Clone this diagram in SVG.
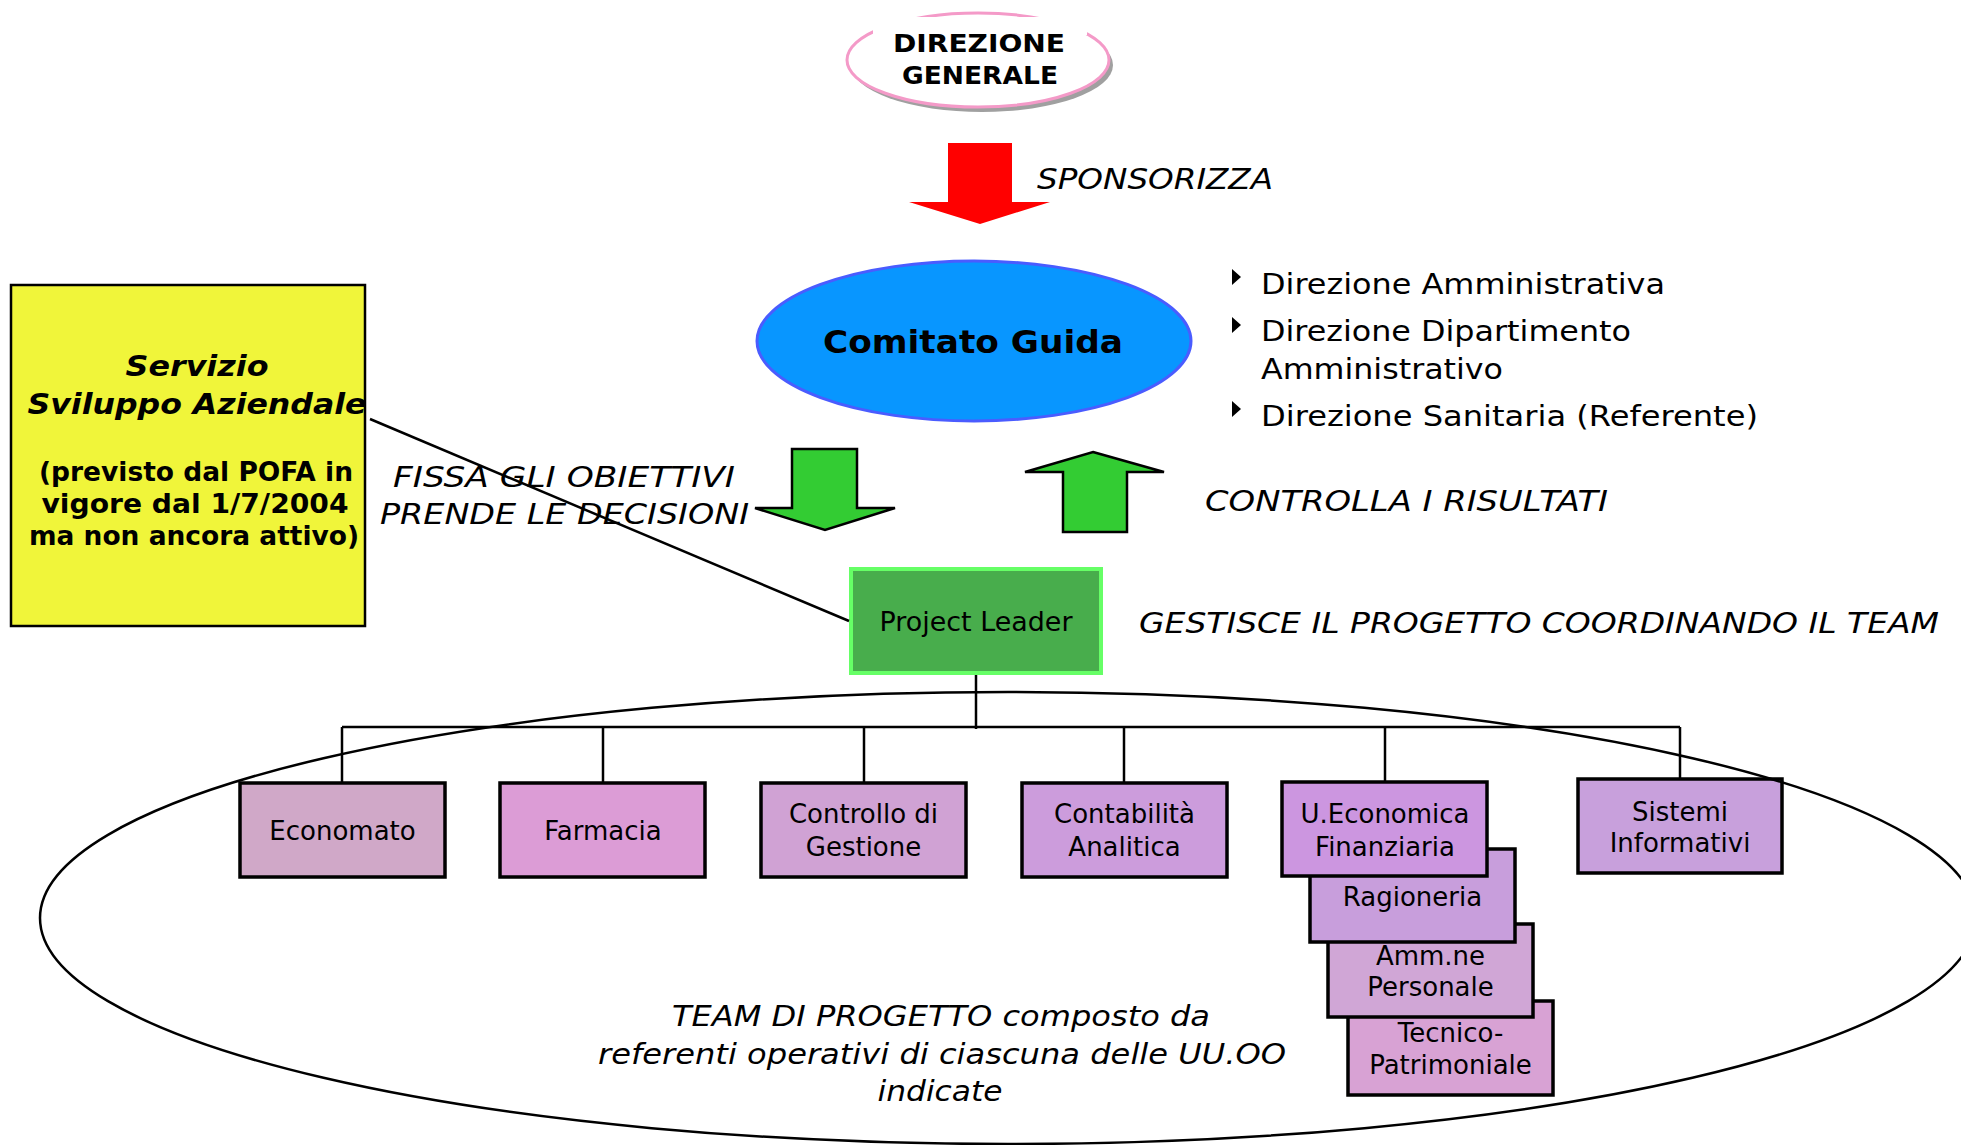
<svg xmlns="http://www.w3.org/2000/svg" width="1961" height="1145" viewBox="0 0 1961 1145">
<style>
text{font-family:"DejaVu Sans","Liberation Sans",sans-serif;fill:#000}
.it{font-style:italic;font-size:29px}
.bx{font-size:26px;text-anchor:middle}
.bl{font-size:29px}
.unit{stroke:#000;stroke-width:3.5}
.conn{stroke:#000;stroke-width:2.5;fill:none}
.garrow{fill:#33cc33;stroke:#000;stroke-width:2.5}
</style>
<rect width="1961" height="1145" fill="#fff"/>

<g id="direzione-generale">
  <ellipse cx="982" cy="65" rx="131" ry="47" fill="#a0a0a0"/>
  <ellipse cx="978" cy="60" rx="131" ry="47" fill="#fff" stroke="#f49ac8" stroke-width="3"/>
  <rect x="873" y="17" width="214" height="18" fill="#fff"/>
  <text x="979" y="52" font-size="25" font-weight="bold" text-anchor="middle" textLength="172" lengthAdjust="spacingAndGlyphs">DIREZIONE</text>
  <text x="980" y="84" font-size="25" font-weight="bold" text-anchor="middle" textLength="156" lengthAdjust="spacingAndGlyphs">GENERALE</text>
</g>

<g id="sponsorizza">
  <polygon points="948,143 1012,143 1012,202 1050,202 980,224 909,202 948,202" fill="#ff0000"/>
  <text class="it" x="1037" y="189" textLength="236" lengthAdjust="spacingAndGlyphs">SPONSORIZZA</text>
</g>

<g id="comitato-guida">
  <ellipse cx="974" cy="341" rx="217" ry="80" fill="#0896ff" stroke="#4a5cff" stroke-width="3"/>
  <text x="973" y="353" font-size="32" font-weight="bold" text-anchor="middle" textLength="300" lengthAdjust="spacingAndGlyphs">Comitato Guida</text>
</g>

<g id="membri-comitato">
  <polygon points="1232,269 1241,277 1232,285"/>
  <polygon points="1232,317 1241,325 1232,333"/>
  <polygon points="1232,401 1241,409 1232,417"/>
  <text class="bl" x="1261" y="294" textLength="404" lengthAdjust="spacingAndGlyphs">Direzione Amministrativa</text>
  <text class="bl" x="1261" y="341" textLength="370" lengthAdjust="spacingAndGlyphs">Direzione Dipartimento</text>
  <text class="bl" x="1261" y="379" textLength="242" lengthAdjust="spacingAndGlyphs">Amministrativo</text>
  <text class="bl" x="1261" y="426" textLength="497" lengthAdjust="spacingAndGlyphs">Direzione Sanitaria (Referente)</text>
</g>

<g id="fissa-obiettivi">
  <polygon class="garrow" points="792,449 857,449 857,508 895,508 825,530 755,508 792,508"/>
  <text class="it" x="393" y="487" textLength="342" lengthAdjust="spacingAndGlyphs">FISSA GLI OBIETTIVI</text>
  <text class="it" x="380" y="524" textLength="369" lengthAdjust="spacingAndGlyphs">PRENDE LE DECISIONI</text>
</g>

<g id="controlla-risultati">
  <polygon class="garrow" points="1093,452 1164,472 1127,472 1127,532 1063,532 1063,472 1025,472"/>
  <text class="it" x="1205" y="511" textLength="403" lengthAdjust="spacingAndGlyphs">CONTROLLA I RISULTATI</text>
</g>

<g id="servizio-sviluppo">
  <rect x="11" y="285" width="354" height="341" fill="#f0f53a" stroke="#000" stroke-width="2.5"/>
  <text x="197" y="376" font-size="28" font-weight="bold" font-style="italic" text-anchor="middle" textLength="143" lengthAdjust="spacingAndGlyphs">Servizio</text>
  <text x="197" y="414" font-size="28" font-weight="bold" font-style="italic" text-anchor="middle" textLength="339" lengthAdjust="spacingAndGlyphs">Sviluppo Aziendale</text>
  <text x="196" y="481" font-size="26" font-weight="bold" text-anchor="middle" textLength="314" lengthAdjust="spacingAndGlyphs">(previsto dal POFA in</text>
  <text x="195" y="513" font-size="26" font-weight="bold" text-anchor="middle" textLength="307" lengthAdjust="spacingAndGlyphs">vigore dal 1/7/2004</text>
  <text x="194" y="545" font-size="26" font-weight="bold" text-anchor="middle" textLength="330" lengthAdjust="spacingAndGlyphs">ma non ancora attivo)</text>
</g>

<g id="project-leader">
  <rect x="851" y="569" width="250" height="104" fill="#48ad4c" stroke="#66ff66" stroke-width="4"/>
  <text x="976" y="631" font-size="26" text-anchor="middle" textLength="193" lengthAdjust="spacingAndGlyphs">Project Leader</text>
  <text class="it" x="1139" y="633" textLength="800" lengthAdjust="spacingAndGlyphs">GESTISCE IL PROGETTO COORDINANDO IL TEAM</text>
</g>

<g id="connectors">
  <line class="conn" x1="370" y1="419" x2="849" y2="621"/>
  <line class="conn" x1="976" y1="675" x2="976" y2="729"/>
  <line class="conn" x1="342" y1="727" x2="1680" y2="727"/>
  <line class="conn" x1="342" y1="727" x2="342" y2="782"/>
  <line class="conn" x1="603" y1="727" x2="603" y2="782"/>
  <line class="conn" x1="864" y1="727" x2="864" y2="782"/>
  <line class="conn" x1="1124" y1="727" x2="1124" y2="782"/>
  <line class="conn" x1="1385" y1="727" x2="1385" y2="781"/>
  <line class="conn" x1="1680" y1="727" x2="1680" y2="778"/>
</g>

<g id="economato">
  <rect class="unit" x="240" y="783" width="205" height="94" fill="#d0a8c8"/>
  <text class="bx" x="342.5" y="840">Economato</text>
</g>
<g id="farmacia">
  <rect class="unit" x="500" y="783" width="205" height="94" fill="#dc9cd6"/>
  <text class="bx" x="603" y="840">Farmacia</text>
</g>
<g id="controllo-gestione">
  <rect class="unit" x="761" y="783" width="205" height="94" fill="#d0a2d4"/>
  <text class="bx" x="863.5" y="823">Controllo di</text>
  <text class="bx" x="863.5" y="856">Gestione</text>
</g>
<g id="contabilita-analitica">
  <rect class="unit" x="1022" y="783" width="205" height="94" fill="#cc9cdc"/>
  <text class="bx" x="1124.5" y="823">Contabilità</text>
  <text class="bx" x="1124.5" y="856">Analitica</text>
</g>
<g id="tecnico-patrimoniale">
  <rect class="unit" x="1348" y="1001" width="205" height="94" fill="#d8a2d4"/>
  <text class="bx" x="1450.5" y="1042">Tecnico-</text>
  <text class="bx" x="1450.5" y="1074">Patrimoniale</text>
</g>
<g id="amm-personale">
  <rect class="unit" x="1328" y="924" width="205" height="93" fill="#d0a6d6"/>
  <text class="bx" x="1430.5" y="965">Amm.ne</text>
  <text class="bx" x="1430.5" y="996">Personale</text>
</g>
<g id="ragioneria">
  <rect class="unit" x="1310" y="849" width="205" height="93" fill="#c89edc"/>
  <text class="bx" x="1412.5" y="906">Ragioneria</text>
</g>
<g id="u-economica-finanziaria">
  <rect class="unit" x="1282" y="782" width="205" height="94" fill="#cc96e0"/>
  <text class="bx" x="1385" y="823">U.Economica</text>
  <text class="bx" x="1385" y="856">Finanziaria</text>
</g>
<g id="sistemi-informativi">
  <rect class="unit" x="1578" y="779" width="204" height="94" fill="#c8a0dc"/>
  <text class="bx" x="1680" y="821">Sistemi</text>
  <text class="bx" x="1680" y="852">Informativi</text>
</g>

<g id="team-progetto">
  <ellipse cx="1008" cy="918" rx="968" ry="226" fill="none" stroke="#000" stroke-width="2.5"/>
  <text class="it" x="941" y="1026" text-anchor="middle" font-size="31" textLength="538" lengthAdjust="spacingAndGlyphs">TEAM DI PROGETTO composto da</text>
  <text class="it" x="942" y="1064" text-anchor="middle" font-size="31" textLength="688" lengthAdjust="spacingAndGlyphs">referenti operativi di ciascuna delle UU.OO</text>
  <text class="it" x="940" y="1101" text-anchor="middle" font-size="31" textLength="125" lengthAdjust="spacingAndGlyphs">indicate</text>
</g>
</svg>
